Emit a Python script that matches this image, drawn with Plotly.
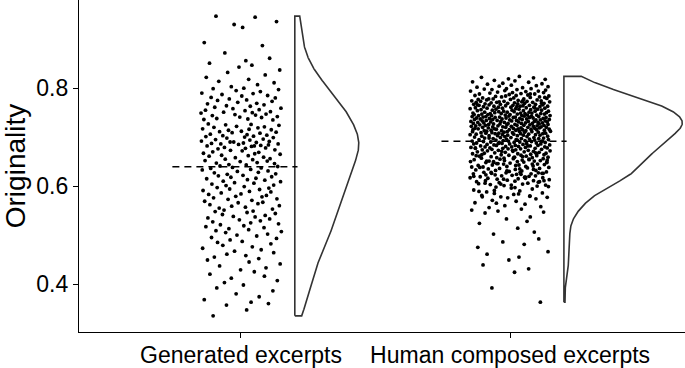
import numpy as np
import plotly.graph_objects as go

categories = ["Generated excerpts", "Human composed excerpts"]
y_ticks = [0.4, 0.6, 0.8]
y_title = "Originality"

# Originality scores (x1000)
gen_y = [
    947, 945, 936, 930, 924, 893, 887, 872, 861, 856,
    851, 847, 843, 837, 832, 827, 822, 818, 814, 811,
    807, 803, 800, 799, 797, 795, 793, 790, 789, 787,
    785, 784, 781, 780, 778, 776, 775, 773, 771, 769,
    768, 766, 764, 763, 761, 759, 758, 756, 755, 754,
    752, 751, 750, 749, 747, 746, 745, 744, 742, 741,
    740, 738, 737, 736, 735, 690, 688, 686, 684, 682,
    727, 726, 725, 724, 722, 721, 720, 719, 717, 716,
    715, 714, 712, 711, 710, 709, 708, 706, 705, 704,
    703, 702, 701, 700, 699, 698, 696, 695, 694, 692,
    691, 690, 689, 687, 686, 685, 683, 682, 681, 679,
    678, 677, 676, 674, 673, 672, 670, 669, 667, 666,
    665, 663, 662, 661, 659, 658, 656, 655, 654, 652,
    651, 650, 648, 647, 646, 644, 643, 641, 640, 638,
    637, 636, 634, 633, 631, 630, 628, 627, 625, 624,
    622, 621, 619, 618, 616, 615, 613, 612, 610, 609,
    607, 606, 604, 602, 601, 599, 597, 596, 594, 593,
    591, 589, 588, 586, 584, 583, 581, 579, 578, 576,
    574, 573, 571, 569, 567, 566, 564, 562, 560, 559,
    557, 555, 553, 551, 549, 548, 546, 544, 542, 540,
    538, 537, 535, 533, 531, 529, 527, 525, 523, 521,
    519, 517, 515, 513, 511, 509, 507, 505, 502, 500,
    498, 495, 493, 490, 487, 485, 482, 479, 476, 473,
    470, 467, 464, 461, 458, 455, 452, 449, 445, 441,
    437, 433, 429, 425, 420, 416, 412, 407, 403, 398,
    392, 386, 380, 374, 368, 363, 360, 357, 347, 335,
]
# horizontal jitter of each point, in % of the jitter half-width
gen_jitter = [
    -62, 35, 88, -17, 4, -91, 53, -40, 71, 12,
    -78, 27, -5, 96, -33, 60, -86, 19, -55, 82,
    41, -24, 7, -69, 93, -12, 48, -97, 30, -47,
    66, 2, -74, 85, -29, 14, -58, 77, -8, 39,
    -83, 57, -36, 23, -65, 99, -20, 45, -88, 10,
    73, -43, 28, -99, 62, -15, 36, -71, 90, -3,
    51, -60, 17, -92, 79, -27, 6, -50, 68, 33,
    -81, 25, -38, 94, -11, 58, -67, 42, -95, 20,
    75, -31, 1, -53, 87, -22, 47, -76, 15, 64,
    -45, 31, -87, 9, 80, -35, 55, -63, 22, -98,
    70, -18, 38, -73, 92, -6, 49, -84, 26, -41,
    61, 11, -57, 84, -26, 3, -70, 44, -93, 34,
    97, -48, 18, -79, 56, -14, 72, -39, 29, -89,
    65, -2, 40, -61, 83, -30, 13, -52, 91, -21,
    50, -75, 24, -96, 67, -9, 43, -66, 86, -34,
    5, -56, 76, -25, 37, -85, 16, 59, -44, 98,
    -16, 32, -72, 81, -37, 8, -59, 69, -28, 46,
    -94, 21, 74, -49, 0, -80, 63, -13, 52, -68,
    89, -32, 27, -90, 54, -7, 42, -77, 95, -23,
    11, -54, 78, -42, 30, -64, 15, 85, -46, 60,
    -19, 35, -82, 71, -4, 48, -70, 24, 93, -51,
    7, -87, 57, -30, 19, -62, 100, -38, 66, -10,
    39, -73, 88, -27, 3, -58, 74, -45, 28, -95,
    50, -16, 81, -35, 12, -66, 44, -83, 20, 97,
    -53, 62, -1, 33, -77, 58, -24, 90, -41, 6,
    -60, 79, -12, 45, -91, 25, 68, -36, 14, -69,
]

hum_y = [
    824, 822, 821, 819, 818, 816, 815, 813, 812, 810,
    809, 808, 806, 805, 804, 803, 802, 801, 799, 799,
    798, 797, 797, 796, 795, 794, 794, 793, 792, 791,
    791, 790, 789, 788, 788, 787, 786, 785, 785, 784,
    783, 782, 782, 781, 780, 780, 779, 778, 778, 777,
    777, 776, 776, 775, 774, 774, 773, 773, 773, 772,
    772, 771, 771, 771, 770, 770, 769, 769, 769, 768,
    768, 767, 767, 767, 766, 766, 765, 765, 765, 764,
    764, 763, 763, 763, 762, 762, 761, 761, 761, 760,
    760, 759, 759, 759, 758, 758, 757, 757, 757, 756,
    756, 755, 755, 755, 754, 754, 753, 753, 753, 752,
    752, 751, 751, 751, 750, 750, 749, 749, 749, 748,
    748, 748, 748, 747, 747, 747, 746, 746, 746, 745,
    745, 745, 744, 744, 744, 744, 743, 743, 743, 742,
    742, 742, 741, 741, 741, 740, 740, 740, 740, 739,
    739, 739, 738, 738, 738, 737, 737, 737, 736, 736,
    736, 736, 735, 735, 735, 734, 734, 734, 733, 733,
    733, 732, 732, 732, 732, 731, 731, 731, 730, 730,
    730, 729, 729, 729, 728, 728, 728, 728, 727, 727,
    727, 726, 726, 726, 725, 725, 725, 724, 724, 724,
    724, 723, 723, 723, 722, 722, 722, 721, 721, 721,
    720, 720, 720, 720, 719, 719, 719, 718, 718, 718,
    717, 717, 717, 716, 716, 716, 715, 715, 715, 715,
    714, 714, 714, 713, 713, 713, 712, 712, 712, 711,
    711, 711, 710, 710, 710, 709, 709, 709, 708, 708,
    708, 707, 707, 707, 706, 706, 706, 705, 705, 705,
    704, 704, 704, 703, 703, 703, 702, 702, 701, 701,
    700, 699, 699, 699, 698, 698, 697, 697, 697, 696,
    696, 695, 695, 695, 694, 694, 693, 693, 692, 692,
    692, 691, 691, 690, 690, 689, 689, 689, 688, 688,
    687, 687, 686, 686, 686, 685, 685, 684, 684, 683,
    683, 683, 682, 682, 681, 681, 680, 680, 680, 679,
    679, 678, 678, 677, 677, 677, 676, 676, 675, 675,
    674, 674, 673, 673, 672, 672, 671, 671, 670, 670,
    669, 669, 668, 667, 667, 666, 666, 665, 664, 664,
    663, 663, 662, 661, 661, 660, 659, 659, 658, 658,
    657, 656, 656, 655, 654, 654, 653, 652, 652, 651,
    651, 650, 650, 650, 649, 648, 648, 647, 646, 645,
    645, 644, 643, 643, 642, 641, 640, 640, 639, 638,
    637, 636, 636, 635, 634, 633, 632, 632, 631, 630,
    629, 628, 628, 627, 626, 626, 625, 625, 624, 623,
    622, 621, 621, 620, 619, 618, 617, 617, 616, 615,
    614, 613, 612, 611, 611, 610, 609, 608, 607, 606,
    605, 604, 603, 602, 601, 600, 598, 596, 594, 592,
    590, 588, 586, 585, 583, 581, 579, 578, 577, 576,
    574, 571, 569, 566, 563, 560, 558, 556, 553, 551,
    549, 547, 545, 537, 533, 528, 524, 514, 506, 502,
    492, 486, 481, 475, 466, 461, 455, 449, 439, 431,
    424, 392, 363,
    698, 694, 691, 687, 682, 678, 673, 668, 664, 660,
    657, 653, 648, 645, 639, 635, 631, 627, 623, 616,
    611, 604, 597, 589, 580, 565,
    671, 666, 662, 658, 655, 651, 649, 646, 642, 638,
    634, 630, 626, 628, 624, 620, 618, 614, 609, 606,
    602, 599, 591, 584, 578,
    788, 784, 781, 778, 775, 772, 769, 766, 763, 760,
]
hum_jitter = [
    23, -71, 58, -4, 87, -39, 12, -93, 46, -18,
    79, -56, 3, 65, -27, 94, -82, 31, -9, 52,
    -64, 17, -45, 88, -13, 70, -98, 39, -31, 6,
    83, -50, 27, -76, 61, -2, 44, -87, 15, 96,
    -36, 73, -21, 50, -68, 9, 91, -42, 34, -79,
    1, 67, -58, 20, -95, 77, -15, 42, -73, 29,
    98, -33, 56, -84, 11, -47, 84, -6, 36, -62,
    19, -90, 63, -24, 81, -52, 7, 48, -77, 32,
    -11, 93, -40, 25, -66, 74, -29, 2, 59, -86,
    40, -19, 86, -57, 14, -99, 68, -35, 22, 51,
    -72, 5, 78, -44, 33, -81, 95, -16, 62, -28,
    10, -63, 47, -7, 90, -38, 26, -92, 54, -49,
    76, -22, 37, -70, 18, 85, -55, 0, -89, 43,
    66, -12, 29, -78, 99, -46, 53, -3, 35, -60,
    -94, 71, -26, 13, -67, 48, 89, -37, 8, -83,
    57, -10, 82, -51, 24, -74, 41, -20, 97, -43,
    30, -88, 64, -1, 75, -59, 16, -32, 87, -69,
    4, 45, -97, 60, -23, 92, -48, 21, -80, 69,
    -14, 38, -65, 80, -5, 55, -91, 28, -41, 72,
    -25, 94, -53, 12, -75, 49, -8, 84, -61, 34,
    17, -85, 67, -30, 3, -96, 58, -43, 77, -18,
    44, -68, 90, -11, 27, -54, 73, -87, 8, 61,
    -39, 20, -79, 97, -34, 52, -2, 66, -92, 31,
    85, -47, 14, -64, 39, -21, 100, -58, 23, -7,
    54, -93, 36, -15, 70, -72, 6, -45, 88, -28,
    -60, 26, 81, -37, 9, -84, 46, -19, 63, -99,
    33, -6, 74, -52, 18, -31, 93, -70, 42, -13,
    -88, 59, -24, 2, 83, -63, 28, -42, 71, -9,
    48, -77, 15, 95, -35, 61, -17, 37, -94, 80,
    -4, 53, -66, 24, -48, 87, -27, 10, -83, 65,
    -20, 41, -90, 76, -1, 32, -57, 98, -40, 13,
    69, -34, 50, -73, 21, -11, 86, -62, 4, -97,
    38, -50, 92, -18, 62, -86, 26, -5, 78, -45,
    14, -69, 45, -29, 99, -56, 7, 58, -81, 35,
    -12, 72, -38, 89, -64, 19, -93, 51, -22, 84,
    27, -3, 66, -76, 40, -47, 11, 94, -33, 55,
    -71, 8, 82, -25, 47, -89, 30, -14, 75, -52,
    60, -41, 18, -98, 34, 91, -60, 0, -30, 68,
    -16, 85, -44, 22, -79, 57, -8, 39, -67, 96,
    43, -26, 73, -54, 13, -85, 64, -36, 29, -2,
    90, -65, 25, -10, 79, -46, 52, -91, 16, -37,
    5, 63, -21, 47, -74, 36, -99, 81, -55, 20,
    -32, 97, -7, 58, -61, 12, -83, 70, -27, 44,
    -78, 31, -49, 88, -15, 67, -35, 3, 55, -90,
    24, -58, 80, -39, 9, -70, 49, -23, 92, -6,
    64, -44, 15, -87, 37, -13, 76, -52, 28, -95,
    -30, 83, -62, 50, -9, 42, -76, 19, 60, -41,
    71, -18, 35, -80, 94, -57, 22, -3, -67, 46,
    11, -45, 75,
    -52, 18, 77, -29, 44, -86, 6, 63, -70, 31,
    -15, 92, -41, 55, -95, 24, -8, 70, -60, 38,
    84, -23, 12, -77, 49, -34,
    -21, 66, -84, 9, 47, -58, 91, -33, 14, -75,
    58, -6, 82, -47, 27, -90, 38, -16, 73, -62,
    3, 95, -39, 21, -69,
    50, -11, 86, -53, 32, -27, 78, -81, 17, 61,
]

# ---- styling / geometry ----
FONT = "Liberation Sans, Arial, sans-serif"
JITTER_W = 0.15      # half width of jitter (category units)
VIOLIN_OFF = 0.20    # flat side of half violin
VIOLIN_W = 0.44      # max violin width
MEAN_L, MEAN_R = 0.255, 0.21


def kde(vals):
    v = np.asarray(vals, float)
    n = len(v)
    sd = v.std(ddof=1)
    q75, q25 = np.percentile(v, [75, 25])
    bw = 0.9 * min(sd, (q75 - q25) / 1.34) * n ** -0.2
    grid = np.linspace(v.min(), v.max(), 512)
    d = np.exp(-0.5 * ((grid[:, None] - v[None, :]) / bw) ** 2).sum(1) / (n * bw * np.sqrt(2 * np.pi))
    return grid, d


groups = [(gen_y, gen_jitter), (hum_y, hum_jitter)]
dens = [kde(np.asarray(ys) / 1000.0) for ys, _ in groups]
dmax = max(d.max() for _, d in dens)

fig = go.Figure()
for i, ((ys, jit), (grid, d)) in enumerate(zip(groups, dens)):
    pos = i + 1
    yv = np.asarray(ys, float) / 1000.0
    n = min(len(yv), len(jit))
    xs = pos + JITTER_W * np.asarray(jit[:n], float) / 100.0
    fig.add_trace(go.Scatter(x=xs, y=yv[:n], mode="markers",
                             marker=dict(color="black", size=3.8, line=dict(width=0)),
                             hoverinfo="skip", showlegend=False))
    base = pos + VIOLIN_OFF
    w = VIOLIN_W * d / dmax
    vx = [base, base] + list(base + w[::-1]) + [base]
    vy = [grid[0], grid[-1]] + list(grid[::-1]) + [grid[0]]
    fig.add_trace(go.Scatter(x=vx, y=vy, mode="lines",
                             line=dict(color="#333333", width=1.6),
                             hoverinfo="skip", showlegend=False))
    m = yv.mean()
    fig.add_trace(go.Scatter(x=[pos - MEAN_L, pos + MEAN_R], y=[m, m], mode="lines",
                             line=dict(color="black", width=1.6, dash="7px,5px"),
                             hoverinfo="skip", showlegend=False))

fig.update_layout(
    width=685, height=368,
    margin=dict(l=79, r=0, t=0, b=36),
    plot_bgcolor="white", paper_bgcolor="white",
    font=dict(family=FONT, color="black"),
    xaxis=dict(range=[0.398, 2.65], tickvals=[1, 2], ticktext=categories,
               automargin=False, ticklabelstandoff=-3,
               showline=True, linecolor="black", linewidth=1.3,
               ticks="outside", ticklen=5, tickcolor="black", tickwidth=1.3,
               showgrid=False, zeroline=False,
               tickfont=dict(size=23, color="black", family=FONT)),
    yaxis=dict(range=[0.302, 0.98], tickvals=y_ticks,
               ticktext=[f"{t:.1f}" for t in y_ticks],
               automargin=False,
               showline=True, linecolor="black", linewidth=1.3,
               ticks="outside", ticklen=5, tickcolor="black", tickwidth=1.3,
               showgrid=False, zeroline=False,
               tickfont=dict(size=23, color="black", family=FONT),
               title=dict(text=y_title, font=dict(size=28, color="black", family=FONT),
                          standoff=9)),
)

fig.write_html("out.html", config={"displayModeBar": False},
               post_script="document.body.style.margin='0';document.body.style.padding='0';")
